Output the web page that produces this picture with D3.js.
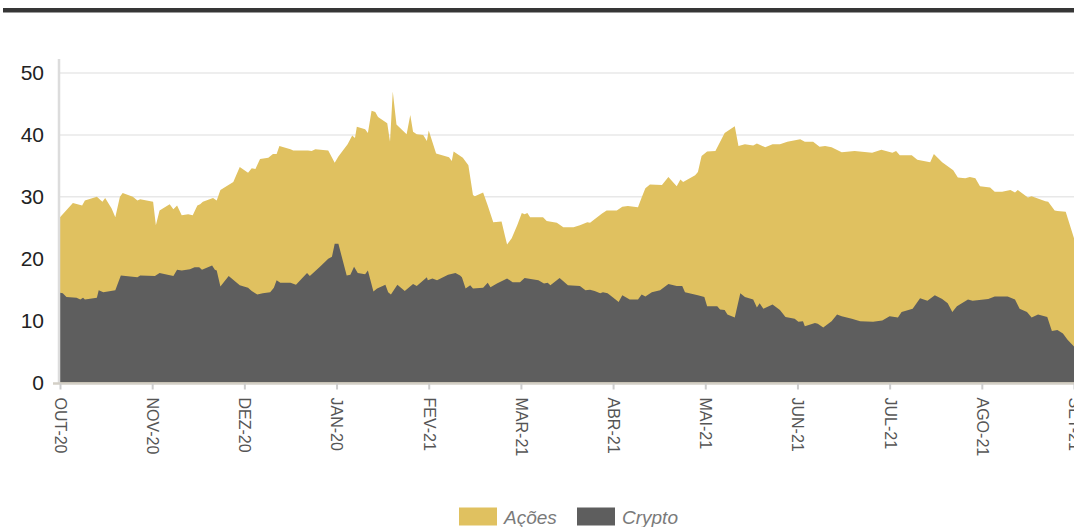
<!DOCTYPE html>
<meta charset="utf-8">
<style>
    body {
        margin: 0;
        background: #fff;
    }

    .grid line {
        stroke: #e8e8e8;
        stroke-width: 1.5px;
    }

    .axis--y text {
        font-family: "Liberation Sans", Arial, sans-serif;
        font-size: 21px;
        fill: #222;
    }

    .axis--x text {
        font-family: "Liberation Sans Narrow", "Liberation Sans", sans-serif;
        font-size: 16px;
        fill: #555;
    }

    .legend text {
        font-family: "Liberation Sans", Arial, sans-serif;
        font-style: italic;
        font-size: 19px;
        fill: #7a7a7a;
    }
</style>
<svg id="chart" width="1074" height="527"></svg>
<script src="https://cdn.jsdelivr.net/npm/d3@7"></script>
<script>
    // month labels, one tick per month (t = months since OUT-20)
    var months = ["OUT-20", "NOV-20", "DEZ-20", "JAN-20", "FEV-21", "MAR-21",
        "ABR-21", "MAI-21", "JUN-21", "JUL-21", "AGO-21", "SET-21"];

    var yTicks = [0, 10, 20, 30, 40, 50];

    var seriesNames = ["Ações", "Crypto"];
    var seriesColors = ["#e0c160", "#5e5e5e"];

    // [t, value]
    var acoesVals = [
        [0, 26.7], [0.14, 29.0], [0.24, 28.6], [0.27, 29.4], [0.40, 30.0], [0.46, 29.2], [0.49, 29.8],
        [0.56, 28.1], [0.60, 26.7], [0.65, 30.0], [0.68, 30.6], [0.79, 30.0], [0.84, 29.4], [0.87, 29.6],
        [1.01, 29.2], [1.04, 25.4], [1.08, 27.8], [1.19, 28.8], [1.23, 28.0], [1.27, 28.6], [1.32, 27.0],
        [1.39, 27.2], [1.44, 27.0], [1.49, 28.6], [1.52, 28.8], [1.55, 29.2], [1.66, 29.8], [1.70, 29.4],
        [1.74, 31.1], [1.88, 32.4], [1.95, 34.8], [2.04, 33.9], [2.08, 34.6], [2.12, 34.5], [2.17, 36.1],
        [2.26, 36.3], [2.31, 36.9], [2.35, 36.9], [2.38, 38.2], [2.50, 37.7], [2.53, 37.5], [2.69, 37.5],
        [2.73, 37.4], [2.77, 37.7], [2.91, 37.5], [2.98, 35.5], [3.02, 36.5], [3.12, 38.5], [3.17, 39.9],
        [3.20, 39.5], [3.22, 41.3], [3.31, 40.9], [3.34, 40.3], [3.38, 43.9], [3.42, 43.7], [3.45, 42.9],
        [3.55, 41.9], [3.58, 38.9], [3.61, 47.0], [3.65, 41.7], [3.76, 40.1], [3.80, 43.2], [3.83, 40.5],
        [3.87, 40.1], [3.94, 40.0], [3.98, 39.0], [4.00, 40.7], [4.08, 37.0], [4.22, 36.4], [4.25, 35.8],
        [4.27, 37.3], [4.37, 36.3], [4.43, 35.1], [4.48, 30.3], [4.50, 30.1], [4.59, 30.7], [4.64, 28.6],
        [4.70, 25.9], [4.79, 26.0], [4.83, 23.5], [4.85, 22.3], [4.90, 23.3], [4.96, 25.4], [5.01, 27.4],
        [5.04, 27.2], [5.07, 27.4], [5.10, 26.7], [5.24, 26.7], [5.28, 26.1], [5.39, 25.8], [5.46, 25.1],
        [5.57, 25.1], [5.64, 25.4], [5.72, 25.9], [5.75, 25.8], [5.88, 27.3], [5.93, 27.8], [6.04, 27.8],
        [6.10, 28.4], [6.16, 28.5], [6.27, 28.3], [6.31, 29.9], [6.35, 31.4], [6.40, 32.0], [6.53, 31.9],
        [6.60, 33.2], [6.69, 31.7], [6.73, 32.8], [6.76, 32.4], [6.89, 33.5], [6.92, 34.0], [6.96, 36.6],
        [7.02, 37.3], [7.11, 37.4], [7.21, 40.3], [7.32, 41.4], [7.36, 38.2], [7.43, 38.5], [7.52, 38.3],
        [7.56, 38.6], [7.65, 38.0], [7.73, 38.5], [7.81, 38.5], [7.89, 38.9], [8.03, 39.3], [8.08, 38.9],
        [8.17, 38.9], [8.24, 38.1], [8.30, 38.2], [8.37, 38.0], [8.48, 37.2], [8.62, 37.4], [8.81, 37.1],
        [8.91, 37.6], [9.03, 37.1], [9.07, 37.4], [9.11, 36.7], [9.24, 36.7], [9.30, 36.0], [9.44, 35.6],
        [9.48, 36.9], [9.57, 35.6], [9.69, 34.3], [9.74, 33.1], [9.82, 33.0], [9.87, 33.2], [9.93, 33.0],
        [9.98, 31.7], [10.09, 31.5], [10.14, 30.8], [10.22, 30.8], [10.31, 31.1], [10.36, 30.7], [10.39, 31.1],
        [10.50, 29.9], [10.54, 30.1], [10.69, 29.3], [10.72, 29.2], [10.79, 27.8], [10.82, 27.7], [10.91, 27.6],
        [11.00, 23.3]
    ];

    var cryptoVals = [
        [0, 14.5], [0.03, 14.4], [0.07, 13.8], [0.18, 13.7], [0.22, 13.4], [0.25, 13.7], [0.27, 13.4],
        [0.40, 13.7], [0.42, 14.9], [0.47, 14.6], [0.60, 14.9], [0.66, 17.3], [0.84, 17.0], [0.87, 17.3],
        [1.03, 17.2], [1.08, 17.7], [1.23, 17.2], [1.27, 18.2], [1.32, 18.1], [1.41, 18.3], [1.46, 18.6],
        [1.51, 18.6], [1.54, 18.2], [1.65, 18.9], [1.68, 18.2], [1.70, 18.1], [1.74, 15.5], [1.83, 17.2],
        [1.95, 15.7], [2.04, 15.3], [2.08, 14.8], [2.14, 14.2], [2.20, 14.4], [2.28, 14.6], [2.32, 15.3],
        [2.35, 16.5], [2.39, 16.1], [2.50, 16.1], [2.56, 15.8], [2.68, 17.7], [2.71, 17.2], [2.82, 18.7],
        [2.91, 20.0], [2.95, 20.3], [2.98, 22.4], [3.02, 22.4], [3.11, 17.3], [3.15, 17.4], [3.19, 18.7],
        [3.23, 17.7], [3.31, 17.5], [3.34, 18.1], [3.40, 14.7], [3.44, 15.2], [3.53, 15.8], [3.56, 14.6],
        [3.59, 14.2], [3.66, 15.8], [3.74, 14.8], [3.83, 15.9], [3.87, 15.6], [3.98, 17.0], [3.99, 16.5],
        [4.04, 16.8], [4.09, 16.5], [4.21, 17.4], [4.29, 17.7], [4.34, 17.3], [4.36, 17.0], [4.40, 15.2],
        [4.45, 15.7], [4.48, 15.2], [4.59, 15.3], [4.64, 16.1], [4.67, 15.4], [4.74, 16.0], [4.85, 16.8],
        [4.91, 16.2], [4.99, 16.2], [5.04, 16.9], [5.19, 16.5], [5.25, 16.0], [5.29, 16.1], [5.32, 15.7],
        [5.42, 16.9], [5.51, 15.7], [5.64, 15.6], [5.70, 14.9], [5.75, 15.0], [5.80, 14.8], [5.86, 14.4],
        [5.89, 14.6], [5.94, 14.4], [6.02, 13.5], [6.06, 13.0], [6.10, 14.1], [6.18, 13.4], [6.27, 13.4],
        [6.31, 14.2], [6.35, 13.9], [6.42, 14.6], [6.51, 14.9], [6.60, 15.9], [6.69, 15.6], [6.75, 15.6],
        [6.78, 14.6], [6.92, 14.1], [6.99, 13.8], [7.02, 12.3], [7.13, 12.3], [7.16, 11.8], [7.21, 11.7],
        [7.24, 11.0], [7.32, 10.5], [7.38, 14.4], [7.43, 13.8], [7.52, 13.4], [7.56, 12.1], [7.59, 12.8],
        [7.63, 11.9], [7.73, 12.6], [7.81, 11.7], [7.87, 10.6], [7.97, 10.3], [8.01, 9.8], [8.06, 9.9],
        [8.08, 9.1], [8.19, 9.6], [8.22, 9.5], [8.28, 8.9], [8.37, 9.9], [8.43, 11.0], [8.48, 10.7],
        [8.59, 10.3], [8.68, 9.9], [8.82, 9.8], [8.92, 10.0], [9.00, 10.7], [9.09, 10.5], [9.13, 11.4],
        [9.25, 11.9], [9.33, 13.6], [9.41, 13.2], [9.49, 14.1], [9.57, 13.5], [9.63, 12.8], [9.68, 11.4],
        [9.73, 12.3], [9.85, 13.4], [9.90, 13.2], [10.07, 13.5], [10.14, 13.9], [10.28, 13.9], [10.36, 13.4],
        [10.41, 11.9], [10.49, 11.4], [10.54, 10.5], [10.61, 11.0], [10.71, 10.6], [10.76, 8.3], [10.82, 8.5],
        [10.88, 7.9], [10.93, 6.9], [11.00, 5.8]
    ];

    var svg = d3.select("#chart"),
        margin = { top: 73, right: 0, bottom: 145, left: 60 },
        width = +svg.attr("width") - margin.left - margin.right,
        height = 382.5 - margin.top;

    // dark band across the top
    svg.append("rect")
        .attr("x", 3).attr("y", 8)
        .attr("width", width + margin.left - 3).attr("height", 4.5)
        .attr("fill", "#363636");

    var g = svg.append("g").attr("transform", "translate(" + margin.left + "," + margin.top + ")");

    var x = d3.scaleLinear().domain([0, months.length - 1]).range([0, width]),
        y = d3.scaleLinear().domain([0, 50]).range([height, 0]);

    // gridlines
    g.append("g")
        .attr("class", "grid")
        .selectAll("line")
        .data(yTicks.slice(1))
        .enter().append("line")
        .attr("x1", 0).attr("x2", width)
        .attr("y1", function (d) { return y(d); })
        .attr("y2", function (d) { return y(d); });

    var area = d3.area()
        .x(function (d) { return x(d[0]); })
        .y0(y(0))
        .y1(function (d) { return y(d[1]); });

    [acoesVals, cryptoVals].forEach(function (s, i) {
        g.append("path")
            .datum(s)
            .attr("fill", seriesColors[i])
            .attr("d", area);
    });

    // y axis line
    g.append("line")
        .attr("x1", -1).attr("x2", -1)
        .attr("y1", -14).attr("y2", height + 1)
        .attr("stroke", "#dcdcdc").attr("stroke-width", 2.5);

    var yAxis = g.append("g")
        .attr("class", "axis axis--y")
        .call(d3.axisLeft(y).tickValues(yTicks).tickSize(0).tickPadding(16));
    yAxis.select(".domain").remove();

    // x axis
    var xAxis = g.append("g")
        .attr("class", "axis axis--x")
        .attr("transform", "translate(0," + (height + 1) + ")")
        .call(d3.axisBottom(x)
            .tickValues(d3.range(months.length))
            .tickFormat(function (d) { return months[d]; })
            .tickSize(6).tickSizeOuter(0));

    xAxis.select(".domain")
        .attr("d", "M-7,0H" + width)
        .attr("stroke", "#d3cfc6").attr("stroke-width", 2.5);
    xAxis.selectAll(".tick line").attr("stroke", "#cccccc").attr("stroke-width", 2);
    xAxis.selectAll(".tick text")
        .attr("transform", "rotate(90)")
        .attr("x", 14).attr("y", 0)
        .attr("dy", "0.35em")
        .style("text-anchor", "start");

    // legend
    var legend = svg.append("g").attr("class", "legend");
    var legendX = [459, 577];
    seriesNames.forEach(function (name, i) {
        legend.append("rect")
            .attr("x", legendX[i]).attr("y", 507.5)
            .attr("width", 38).attr("height", 18)
            .attr("fill", seriesColors[i]);
        legend.append("text")
            .attr("x", legendX[i] + 45).attr("y", 524)
            .text(name);
    });
</script>
